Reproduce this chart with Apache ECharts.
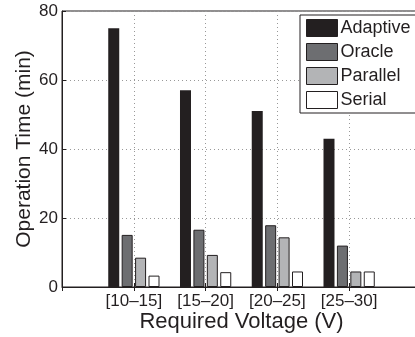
<!DOCTYPE html>
<html><head><meta charset="utf-8">
<script src="https://cdn.jsdelivr.net/npm/echarts@6/dist/echarts.min.js"></script>
<style>html,body{margin:0;padding:0;background:#fff}#c{width:415px;height:337px}</style>
</head><body><div id="c"></div>
<script>
const categories = ['[10–15]', '[15–20]', '[20–25]', '[25–30]'];
const seriesNames = ['Adaptive', 'Oracle', 'Parallel', 'Serial'];
const adaptive = [75, 57, 51, 43];
const oracle = [15.1, 16.6, 17.9, 12.0];
const parallel = [8.5, 9.3, 14.4, 4.5];
const serial = [3.3, 4.3, 4.5, 4.5];
const yTicks = [0, 20, 40, 60, 80];

const seriesData = [adaptive, oracle, parallel, serial];
const fills = ['#231f20', '#6d6e71', '#b3b4b6', '#ffffff'];
const borders = ['#231f20', '#231f20', '#231f20', '#231f20'];
const font = 'Liberation Sans, Arial, Helvetica, sans-serif';
const txt = '#231f20';

const chart = echarts.init(document.getElementById('c'));
chart.setOption({
  animation: false,
  grid: [
    {left: 62, top: 11, right: -6, bottom: 50, outerBoundsMode: 'none', containLabel: false,
     show: true, borderColor: '#231f20', borderWidth: 1, backgroundColor: 'transparent'},
    {left: 98, top: 11, width: 287, bottom: 50, outerBoundsMode: 'none', containLabel: false}
  ],
  legend: {
    data: seriesNames, left: 300, top: 15, orient: 'vertical',
    icon: 'rect', itemWidth: 31, itemHeight: 17, itemGap: 6,
    backgroundColor: '#fff', borderColor: '#231f20', borderWidth: 1,
    padding: [4, 6, 4, 6],
    textStyle: {fontFamily: font, fontSize: 18, lineHeight: 17, color: txt, padding: [0, 0, 0, -2]},
    itemStyle: {borderColor: '#231f20', borderWidth: 1}
  },
  xAxis: [
    {gridIndex: 0, type: 'value', min: 0, max: 5, interval: 1,
     axisLine: {show: true, onZero: false, lineStyle: {color: '#231f20'}},
     axisTick: {show: true, inside: true, length: 4, lineStyle: {color: '#231f20'}},
     axisLabel: {show: false},
     splitLine: {show: true, lineStyle: {color: '#999', type: [1, 3], width: 1}}},
    {gridIndex: 1, type: 'category', data: categories,
     axisLine: {show: false}, axisTick: {show: false},
     axisLabel: {fontFamily: font, fontSize: 17, color: txt, margin: 6, interval: 0, hideOverlap: false},
     name: 'Required Voltage (V)', nameLocation: 'middle', nameGap: 24, nameMoveOverlap: false,
     nameTextStyle: {fontFamily: font, fontSize: 22, color: txt}},
    {gridIndex: 0, type: 'value', position: 'top', min: 0, max: 5, interval: 1,
     axisLine: {show: false},
     axisTick: {show: true, inside: true, length: 4, lineStyle: {color: '#231f20'}},
     axisLabel: {show: false}, splitLine: {show: false}}
  ],
  yAxis: [
    {gridIndex: 0, type: 'value', min: 0, max: 80, interval: 20,
     axisLine: {show: true, lineStyle: {color: '#231f20'}},
     axisTick: {show: true, inside: true, length: 4, lineStyle: {color: '#231f20'}},
     axisLabel: {fontFamily: font, fontSize: 17, color: txt, margin: 4,
                 formatter: v => yTicks.includes(v) ? String(v) : ''},
     splitLine: {show: true, lineStyle: {color: '#999', type: [1, 3], width: 1}},
     name: 'Operation Time (min)', nameLocation: 'middle', nameGap: 27, nameMoveOverlap: false,
     nameTextStyle: {fontFamily: font, fontSize: 21, color: txt}},
    {gridIndex: 1, type: 'value', min: 0, max: 80, show: false}
  ],
  series: seriesData.map((d, i) => ({
    name: seriesNames[i], type: 'bar', xAxisIndex: 1, yAxisIndex: 1,
    data: d, barWidth: 11, barGap: '22%',
    itemStyle: {color: fills[i], borderColor: borders[i], borderWidth: i === 0 ? 0 : 1}
  }))
});
</script></body></html>
